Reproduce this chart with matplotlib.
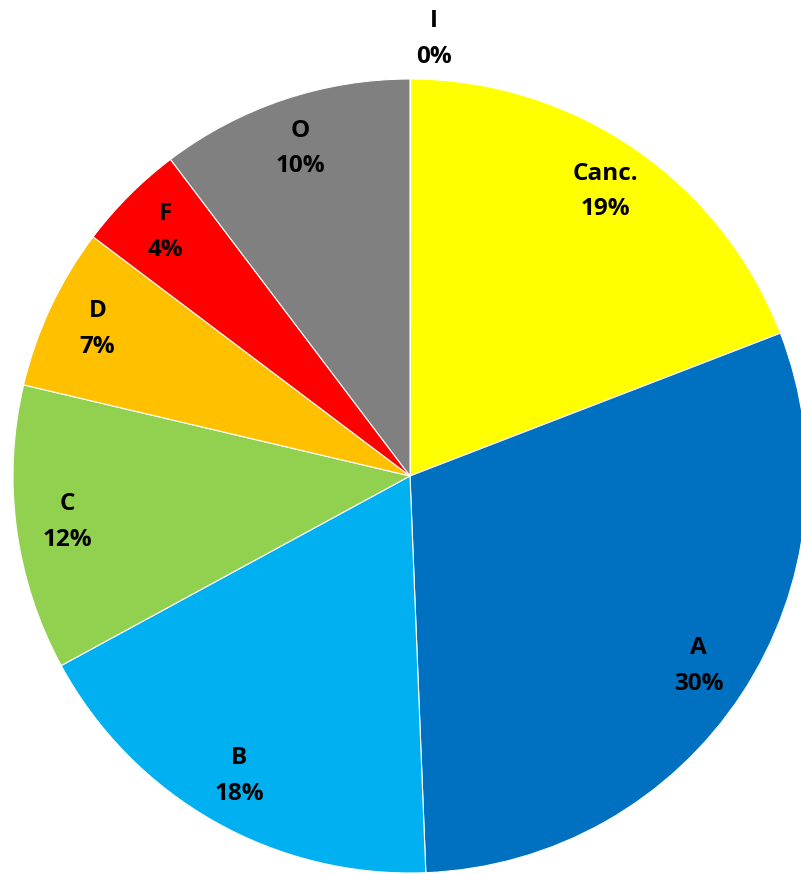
import numpy as np
import matplotlib
matplotlib.use("Agg")
import matplotlib.pyplot as plt

# Share of each grade (%), clockwise from 12 o'clock
categories = ["I", "Canc.", "A", "B", "C", "D", "F", "O"]
shares = [0.03, 19.1, 30.2, 17.7, 11.6, 6.6, 4.4, 10.3]
colors = ["#FFFF00", "#FFFF00", "#0070C0", "#00B0F0", "#92D050",
          "#FFC000", "#FF0000", "#808080"]

fig = plt.figure(figsize=(8.01, 8.74), dpi=100)
ax = fig.add_axes([0, 0, 1, 1])

wedges, _ = ax.pie(shares, colors=colors, startangle=90, counterclock=False,
                   radius=1.0,
                   wedgeprops=dict(edgecolor="white", linewidth=0.8))

# pie centre sits a little left of the figure middle, right/bottom edges clipped
ax.set_xlim(-410 / 397, (801 - 410) / 397)
ax.set_ylim(-(874 - 476) / 397, 476 / 397)
ax.set_aspect("equal")
ax.axis("off")

font = dict(family="Open Sans", fontsize=17.5, fontweight="bold",
            ha="center", va="center", linespacing=1.65)

for w, name, val in zip(wedges, categories, shares):
    mid = np.deg2rad((w.theta1 + w.theta2) / 2)
    r = 1.1 if val < 1 else 0.87
    x, y = r * np.cos(mid), r * np.sin(mid)
    if val < 1:
        x += 0.06
    ax.text(x, y, f"{name}\n{val:.0f}%", **font)

fig.savefig("out.png", dpi=100)
